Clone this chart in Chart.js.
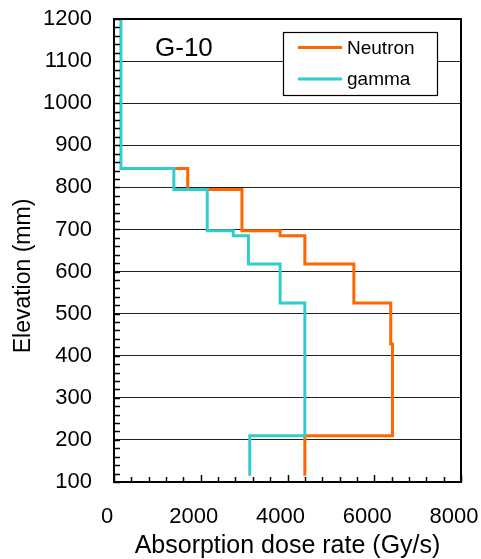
<!DOCTYPE html>
<html>
<head>
<meta charset="utf-8">
<script src="https://cdn.jsdelivr.net/npm/chart.js@4"></script>
<style>
  html, body { margin: 0; padding: 0; background: #ffffff; }
  #wrap { width: 481px; height: 559px; }
</style>
</head>
<body>
<div id="wrap"><canvas id="c" width="481" height="559"></canvas></div>
<script>
// ---- data ----
const seriesNames = ['Neutron', 'gamma'];
const neutronX = [1400, 1700, 1700, 2950, 2950, 3830, 3830, 4400, 4400, 5530, 5530, 6380, 6380, 6420, 6420, 4400, 4400];
const neutronY = [845, 845, 795, 795, 697, 697, 685, 685, 618, 618, 525, 525, 428, 428, 210, 210, 115];
const gammaX = [160, 160, 1380, 1380, 2150, 2150, 2750, 2750, 3100, 3100, 3830, 3830, 4400, 4400, 3130, 3130];
const gammaY = [1200, 845, 845, 795, 795, 697, 697, 685, 685, 618, 618, 525, 525, 210, 210, 115];
const xTicks = [0, 2000, 4000, 6000, 8000];
const yTicks = [100, 200, 300, 400, 500, 600, 700, 800, 900, 1000, 1100, 1200];
const panelLabel = 'G-10';
const xTitle = 'Absorption dose rate (Gy/s)';
const yTitle = 'Elevation (mm)';

const FONT = '"Liberation Sans", Arial, sans-serif';
const colors = ['#FF6600', '#33CCCC'];

function pts(xs, ys) { return xs.map((x, i) => ({ x: x, y: ys[i] })); }
function noPad(s) { s.paddingLeft = 0; s.paddingRight = 0; s.paddingTop = 0; s.paddingBottom = 0; }

const decor = {
  id: 'decor',
  afterDatasetsDraw(chart) {
    const ctx = chart.ctx;
    const a = chart.chartArea;
    const xs = chart.scales.x, ys = chart.scales.y;
    ctx.save();
    // minor ticks (inside)
    ctx.strokeStyle = '#000';
    ctx.lineWidth = 1.5;
    ctx.beginPath();
    for (let v = yTicks[0]; v <= yTicks[yTicks.length - 1]; v += 20) {
      const y = Math.round(ys.getPixelForValue(v)) + 0.5;
      ctx.moveTo(a.left, y); ctx.lineTo(a.left + 6, y);
    }
    for (let v = xTicks[0]; v <= xTicks[xTicks.length - 1]; v += 400) {
      const x = Math.round(xs.getPixelForValue(v)) + 0.5;
      const len = (v % 2000 === 0) ? 7 : 5;
      ctx.moveTo(x, a.bottom); ctx.lineTo(x, a.bottom - len);
    }
    ctx.stroke();
    // plot frame
    ctx.lineWidth = 2;
    ctx.strokeRect(a.left, a.top, a.right - a.left, a.bottom - a.top);

    // y axis title
    ctx.fillStyle = '#000';
    ctx.save();
    ctx.translate(24, 276);
    ctx.rotate(-Math.PI / 2);
    ctx.font = '23px ' + FONT;
    ctx.textAlign = 'center';
    ctx.textBaseline = 'middle';
    ctx.fillText(yTitle, 0, 0);
    ctx.restore();

    // panel label
    ctx.font = '26px ' + FONT;
    ctx.textAlign = 'left';
    ctx.textBaseline = 'middle';
    ctx.fillText(panelLabel, 155, 49);

    // legend
    const bx = 283, by = 32, bw = 154, bh = 63;
    ctx.fillStyle = '#fff';
    ctx.fillRect(bx, by, bw, bh);
    ctx.lineWidth = 1.2;
    ctx.strokeStyle = '#000';
    ctx.strokeRect(bx + 0.5, by + 0.5, bw, bh);
    const rowY = [47.5, 79];
    chart.data.datasets.slice().sort((p, q) => seriesNames.indexOf(p.label) - seriesNames.indexOf(q.label)).forEach((ds, i) => {
      ctx.strokeStyle = ds.borderColor;
      ctx.lineWidth = 3;
      ctx.beginPath();
      ctx.moveTo(298, rowY[i]); ctx.lineTo(342, rowY[i]);
      ctx.stroke();
      ctx.fillStyle = '#000';
      ctx.font = '19px ' + FONT;
      ctx.textAlign = 'left';
      ctx.textBaseline = 'middle';
      ctx.fillText(ds.label, 347, rowY[i] + 1);
    });
    ctx.restore();
  }
};

new Chart(document.getElementById('c'), {
  type: 'scatter',
  data: {
    datasets: [
      { label: seriesNames[1], data: pts(gammaX, gammaY), showLine: true, borderColor: colors[1], backgroundColor: colors[1], borderWidth: 3, pointRadius: 0, order: 0, fill: false },
      { label: seriesNames[0], data: pts(neutronX, neutronY), showLine: true, borderColor: colors[0], backgroundColor: colors[0], borderWidth: 3, pointRadius: 0, order: 1, fill: false }
    ]
  },
  options: {
    responsive: false,
    animation: false,
    devicePixelRatio: 1,
    layout: { padding: { top: 19, right: 20, left: 0, bottom: 0 } },
    plugins: { legend: { display: false }, tooltip: { enabled: false } },
    scales: {
      x: {
        type: 'linear', min: xTicks[0], max: xTicks[xTicks.length - 1],
        afterBuildTicks: s => { s.ticks = xTicks.map(v => ({ value: v })); },
        afterFit: s => { s.height = 77; noPad(s); },
        grid: { display: false, drawTicks: false },
        border: { display: true, color: '#000', width: 2 },
        ticks: { color: '#000', padding: 22, maxRotation: 0, labelOffset: -7, font: { family: FONT, size: 22 }, callback: v => String(v) },
        title: { display: true, text: xTitle, color: '#000', font: { family: FONT, size: 25, lineHeight: 1.0 }, padding: { top: 0, bottom: 0 } }
      },
      y: {
        type: 'linear', min: yTicks[0], max: yTicks[yTicks.length - 1],
        afterBuildTicks: s => { s.ticks = yTicks.map(v => ({ value: v })); },
        afterFit: s => { s.width = 114; noPad(s); },
        grid: { display: true, color: '#222', lineWidth: 1, drawTicks: false },
        border: { display: true, color: '#000', width: 2 },
        ticks: { color: '#000', padding: 22, font: { family: FONT, size: 22 }, callback: v => String(v) },
        title: { display: false, text: yTitle }
      }
    }
  },
  plugins: [decor]
});
</script>
</body>
</html>
